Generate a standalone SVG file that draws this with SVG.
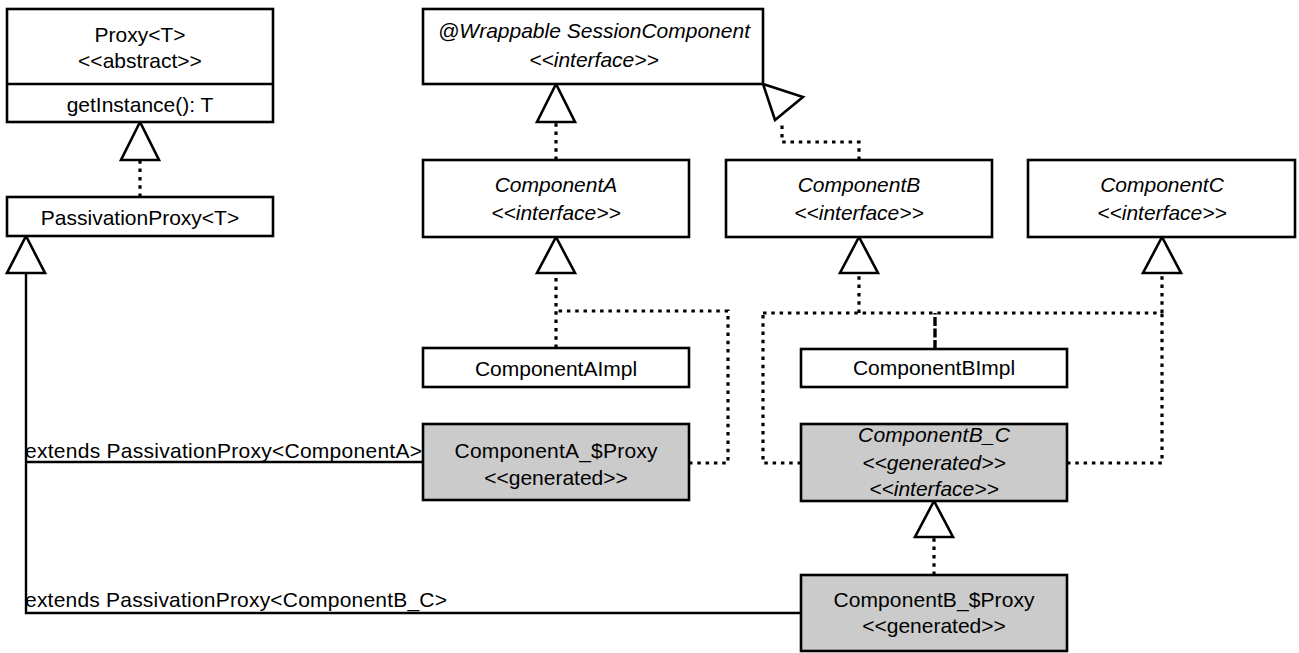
<svg xmlns="http://www.w3.org/2000/svg" width="1299" height="653" viewBox="0 0 1299 653">
<style>
.box{fill:#fff;stroke:#000;stroke-width:2.6}
.gen{fill:#cbcbcb;stroke:#000;stroke-width:2.6}
text{font-family:"Liberation Sans",Arial,sans-serif;font-size:21px;fill:#000}
.c{text-anchor:middle}
.i{font-style:italic}
.dot{fill:none;stroke:#000;stroke-width:3.2;stroke-dasharray:3.5 4.8}
.sol{fill:none;stroke:#000;stroke-width:2.4}
.tri{fill:#fff;stroke:#000;stroke-width:2.6;stroke-linejoin:miter}
</style>
<rect width="1299" height="653" fill="#fff"/>
<g id="connectors">
  <path class="dot" d="M140,197 V160"/>
  <path class="dot" d="M556,160 V122"/>
  <path class="dot" d="M859,160 V142 H782 V121"/>
  <path class="dot" d="M556,348 V273"/>
  <path class="dot" d="M689,463 H728 V311 H556"/>
  <path class="dot" d="M763,313 H1162"/>
  <path class="dot" d="M859,313 V273"/>
  <path class="dot" d="M1162,313 V273"/>
  <path fill="none" stroke="#000" stroke-width="3.4" stroke-dasharray="9 2.5" d="M935,349 V313"/>
  <path class="dot" d="M801,463 H763 V313"/>
  <path class="dot" d="M1067,463 H1162 V313"/>
  <path class="dot" d="M934,575 V537"/>
  <path class="sol" d="M423,462 H26"/>
  <path class="sol" d="M801,613 H26 V273"/>
  <polygon class="tri" points="140,122 121,160 159,160"/>
  <polygon class="tri" points="556,84 537,122 575,122"/>
  <polygon class="tri" points="763,84 803,97 775,120"/>
  <polygon class="tri" points="556,237 537,273 575,273"/>
  <polygon class="tri" points="859,237 840,273 878,273"/>
  <polygon class="tri" points="1162,237 1143,273 1181,273"/>
  <polygon class="tri" points="934,501 915,537 953,537"/>
  <polygon class="tri" points="26,236 7,273 45,273"/>
  <text x="25" y="458" textLength="397" lengthAdjust="spacing">extends PassivationProxy&lt;ComponentA&gt;</text>
  <text x="25" y="607" textLength="422" lengthAdjust="spacing">extends PassivationProxy&lt;ComponentB_C&gt;</text>
</g>
<g id="proxy">
  <rect class="box" x="7" y="9" width="266" height="113"/>
  <line x1="7" y1="84" x2="273" y2="84" stroke="#000" stroke-width="2.6"/>
  <text class="c" x="140" y="42">Proxy&lt;T&gt;</text>
  <text class="c" x="140" y="68">&lt;&lt;abstract&gt;&gt;</text>
  <text class="c" x="140" y="112">getInstance(): T</text>
</g>
<g id="passivationProxy">
  <rect class="box" x="7" y="197" width="266" height="39"/>
  <text class="c" x="140" y="225">PassivationProxy&lt;T&gt;</text>
</g>
<g id="sessionComponent">
  <rect class="box" x="423" y="9" width="340" height="75"/>
  <text class="c i" x="594" y="38">@Wrappable SessionComponent</text>
  <text class="c i" x="594" y="67">&lt;&lt;interface&gt;&gt;</text>
</g>
<g id="componentA">
  <rect class="box" x="423" y="160" width="266" height="77"/>
  <text class="c i" x="556" y="192">ComponentA</text>
  <text class="c i" x="556" y="220">&lt;&lt;interface&gt;&gt;</text>
</g>
<g id="componentB">
  <rect class="box" x="726" y="160" width="266" height="77"/>
  <text class="c i" x="859" y="192">ComponentB</text>
  <text class="c i" x="859" y="220">&lt;&lt;interface&gt;&gt;</text>
</g>
<g id="componentC">
  <rect class="box" x="1028" y="160" width="267" height="77"/>
  <text class="c i" x="1162" y="192">ComponentC</text>
  <text class="c i" x="1162" y="220">&lt;&lt;interface&gt;&gt;</text>
</g>
<g id="componentAImpl">
  <rect class="box" x="423" y="348" width="266" height="39"/>
  <text class="c" x="556" y="376">ComponentAImpl</text>
</g>
<g id="componentBImpl">
  <rect class="box" x="801" y="349" width="266" height="38"/>
  <text class="c" x="934" y="375">ComponentBImpl</text>
</g>
<g id="componentAProxy">
  <rect class="gen" x="423" y="424" width="266" height="76"/>
  <text class="c" x="556" y="458" textLength="203" lengthAdjust="spacing">ComponentA_$Proxy</text>
  <text class="c" x="556" y="485">&lt;&lt;generated&gt;&gt;</text>
</g>
<g id="componentB_C">
  <rect class="gen" x="801" y="424" width="266" height="77"/>
  <text class="c i" x="934" y="442" textLength="152" lengthAdjust="spacing">ComponentB_C</text>
  <text class="c i" x="934" y="470">&lt;&lt;generated&gt;&gt;</text>
  <text class="c i" x="934" y="496">&lt;&lt;interface&gt;&gt;</text>
</g>
<g id="componentBProxy">
  <rect class="gen" x="801" y="575" width="266" height="76"/>
  <text class="c" x="934" y="607" textLength="201" lengthAdjust="spacing">ComponentB_$Proxy</text>
  <text class="c" x="934" y="633">&lt;&lt;generated&gt;&gt;</text>
</g>
</svg>
